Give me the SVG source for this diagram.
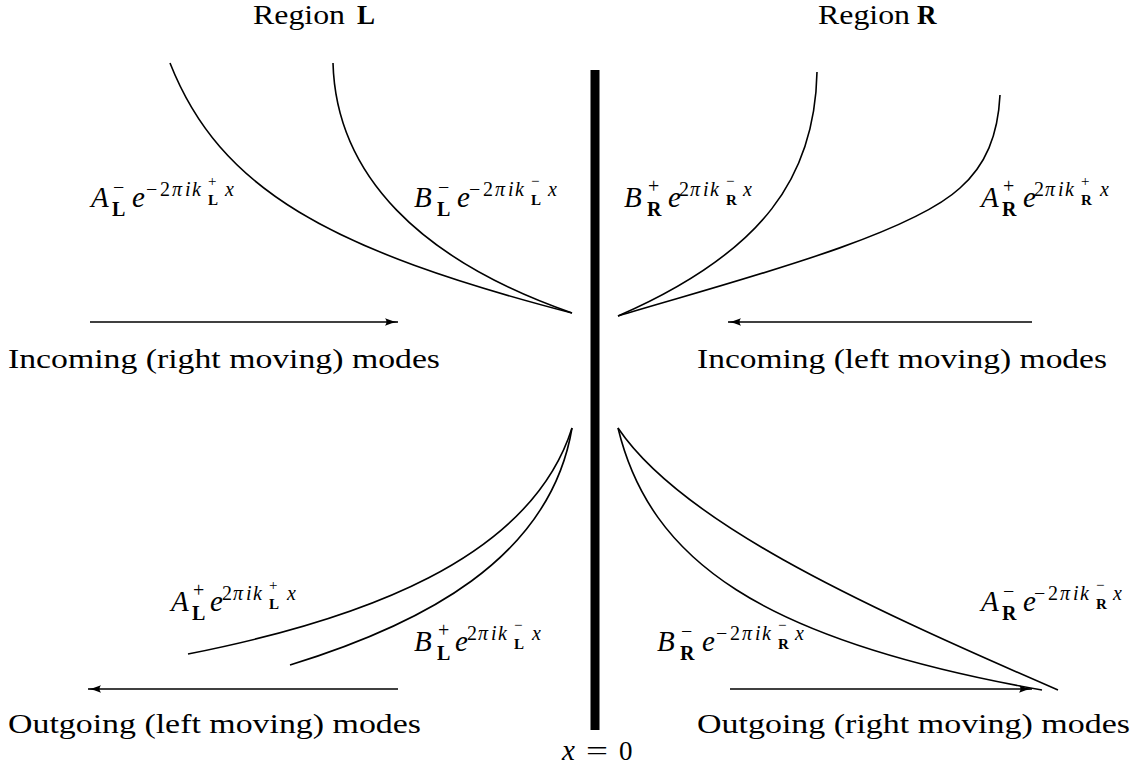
<svg xmlns="http://www.w3.org/2000/svg" width="1145" height="769" viewBox="0 0 1145 769">
<style>
.t{font-family:"Liberation Serif",serif;font-size:27px;fill:#000}
.m{font-family:"Liberation Serif",serif;font-style:italic;font-size:29px;fill:#000}
.s{font-family:"Liberation Serif",serif;font-size:20px;fill:#000}
.ss{font-family:"Liberation Serif",serif;font-size:15px;fill:#000}
.si{font-family:"Liberation Serif",serif;font-style:italic;font-size:20px;fill:#000}
.b{font-weight:bold}
.up{font-style:normal}
.curve{fill:none;stroke:#000;stroke-width:1.6}
.arrow{fill:none;stroke:#000;stroke-width:1.7;marker-end:url(#ah)}
</style>
<defs>
<marker id="ah" viewBox="0 0 13 8" refX="13" refY="4" markerWidth="13" markerHeight="8" markerUnits="userSpaceOnUse" orient="auto">
<path d="M0,0.3 Q7,3.3 13,4 Q7,4.7 0,7.7 Q3,4 0,0.3 z" fill="#000"/>
</marker>
</defs>
<rect width="1145" height="769" fill="#fff"/>

<g id="titles">
<text class="t" x="253" y="24" textLength="92" lengthAdjust="spacingAndGlyphs">Region</text>
<text class="t b" x="357" y="24">L</text>
<text class="t" x="818" y="24" textLength="92" lengthAdjust="spacingAndGlyphs">Region</text>
<text class="t b" x="917" y="24">R</text>
</g>

<g id="wall">
<rect x="590.5" y="70" width="9" height="660" fill="#000"/>
<text class="m" x="562" y="760">x</text>
<text class="t" x="586" y="760" textLength="22" lengthAdjust="spacingAndGlyphs">=</text>
<text class="t" x="619" y="760">0</text>
</g>

<g id="connectors">
<path class="curve" d="M170,63 C220,190 330,250 572,313"/>
<path class="curve" d="M333,63 C336,175 420,260 572,313"/>
<path class="curve" d="M817,72 C815,175 765,252 618,316"/>
<path class="curve" d="M1000,95 C998,135 986,165 960,188 C906,238 720,285 618,316"/>
<path class="curve" d="M188,654 C360,620 530,560 572,428"/>
<path class="curve" d="M290,665 C420,625 550,560 572,428"/>
<path class="curve" d="M618,428 C650,560 760,640 1042,690"/>
<path class="curve" d="M618,428 C680,520 850,600 1058,690"/>
<path class="arrow" d="M90,322 H398"/>
<path class="arrow" d="M1032,322 H728"/>
<path class="arrow" d="M398,689 H88"/>
<path class="arrow" d="M730,689 H1032"/>
</g>

<g id="captions">
<text class="t" x="8" y="368" textLength="432" lengthAdjust="spacingAndGlyphs">Incoming (right moving) modes</text>
<text class="t" x="697" y="368" textLength="410" lengthAdjust="spacingAndGlyphs">Incoming (left moving) modes</text>
<text class="t" x="8" y="733" textLength="413" lengthAdjust="spacingAndGlyphs">Outgoing (left moving) modes</text>
<text class="t" x="697" y="733" textLength="433" lengthAdjust="spacingAndGlyphs">Outgoing (right moving) modes</text>
</g>

<g id="label-AL-minus" transform="translate(90,207)">
<text class="m" x="1" y="0">A</text>
<text class="s" x="23" y="-13">−</text>
<text class="s b" x="22" y="9">L</text>
<text class="m" x="42" y="0">e</text>
<text class="si" y="-11"><tspan class="up" x="56">−</tspan><tspan class="up" x="70">2</tspan><tspan x="82">π</tspan><tspan x="95">i</tspan><tspan x="102">k</tspan></text>
<text class="ss" x="118" y="-21">+</text>
<text class="ss b" x="118" y="-2">L</text>
<text class="si" x="135" y="-11">x</text>
</g>

<g id="label-BL-minus" transform="translate(413,207)">
<text class="m" x="1" y="0">B</text>
<text class="s" x="25" y="-13">−</text>
<text class="s b" x="24" y="9">L</text>
<text class="m" x="44" y="0">e</text>
<text class="si" y="-11"><tspan class="up" x="56">−</tspan><tspan class="up" x="70">2</tspan><tspan x="82">π</tspan><tspan x="95">i</tspan><tspan x="102">k</tspan></text>
<text class="ss" x="118" y="-21">−</text>
<text class="ss b" x="118" y="-2">L</text>
<text class="si" x="135" y="-11">x</text>
</g>

<g id="label-BR-plus" transform="translate(623,207)">
<text class="m" x="1" y="0">B</text>
<text class="s" x="25" y="-14">+</text>
<text class="s b" x="24" y="9">R</text>
<text class="m" x="45" y="0">e</text>
<text class="si" y="-11"><tspan class="up" x="56">2</tspan><tspan x="67">π</tspan><tspan x="80">i</tspan><tspan x="87">k</tspan></text>
<text class="ss" x="103" y="-21">−</text>
<text class="ss b" x="103" y="-2">R</text>
<text class="si" x="120" y="-11">x</text>
</g>

<g id="label-AR-plus" transform="translate(980,207)">
<text class="m" x="1" y="0">A</text>
<text class="s" x="23" y="-14">+</text>
<text class="s b" x="22" y="9">R</text>
<text class="m" x="43" y="0">e</text>
<text class="si" y="-11"><tspan class="up" x="54">2</tspan><tspan x="65">π</tspan><tspan x="78">i</tspan><tspan x="85">k</tspan></text>
<text class="ss" x="101" y="-21">+</text>
<text class="ss b" x="101" y="-2">R</text>
<text class="si" x="120" y="-11">x</text>
</g>

<g id="label-AL-plus" transform="translate(170,611)">
<text class="m" x="1" y="0">A</text>
<text class="s" x="23" y="-14">+</text>
<text class="s b" x="22" y="9">L</text>
<text class="m" x="40" y="0">e</text>
<text class="si" y="-11"><tspan class="up" x="52">2</tspan><tspan x="63">π</tspan><tspan x="76">i</tspan><tspan x="83">k</tspan></text>
<text class="ss" x="99" y="-21">+</text>
<text class="ss b" x="99" y="-2">L</text>
<text class="si" x="117" y="-11">x</text>
</g>

<g id="label-BL-plus" transform="translate(413,651)">
<text class="m" x="1" y="0">B</text>
<text class="s" x="25" y="-14">+</text>
<text class="s b" x="24" y="9">L</text>
<text class="m" x="42" y="0">e</text>
<text class="si" y="-11"><tspan class="up" x="54">2</tspan><tspan x="65">π</tspan><tspan x="78">i</tspan><tspan x="85">k</tspan></text>
<text class="ss" x="101" y="-21">−</text>
<text class="ss b" x="101" y="-2">L</text>
<text class="si" x="119" y="-11">x</text>
</g>

<g id="label-BR-minus" transform="translate(656,651)">
<text class="m" x="1" y="0">B</text>
<text class="s" x="25" y="-13">−</text>
<text class="s b" x="24" y="9">R</text>
<text class="m" x="46" y="0">e</text>
<text class="si" y="-11"><tspan class="up" x="60">−</tspan><tspan class="up" x="74">2</tspan><tspan x="86">π</tspan><tspan x="99">i</tspan><tspan x="106">k</tspan></text>
<text class="ss" x="122" y="-21">−</text>
<text class="ss b" x="122" y="-2">R</text>
<text class="si" x="139" y="-11">x</text>
</g>

<g id="label-AR-minus" transform="translate(980,611)">
<text class="m" x="1" y="0">A</text>
<text class="s" x="23" y="-13">−</text>
<text class="s b" x="22" y="9">R</text>
<text class="m" x="43" y="0">e</text>
<text class="si" y="-11"><tspan class="up" x="54">−</tspan><tspan class="up" x="68">2</tspan><tspan x="80">π</tspan><tspan x="93">i</tspan><tspan x="100">k</tspan></text>
<text class="ss" x="116" y="-21">−</text>
<text class="ss b" x="116" y="-2">R</text>
<text class="si" x="133" y="-11">x</text>
</g>
</svg>
